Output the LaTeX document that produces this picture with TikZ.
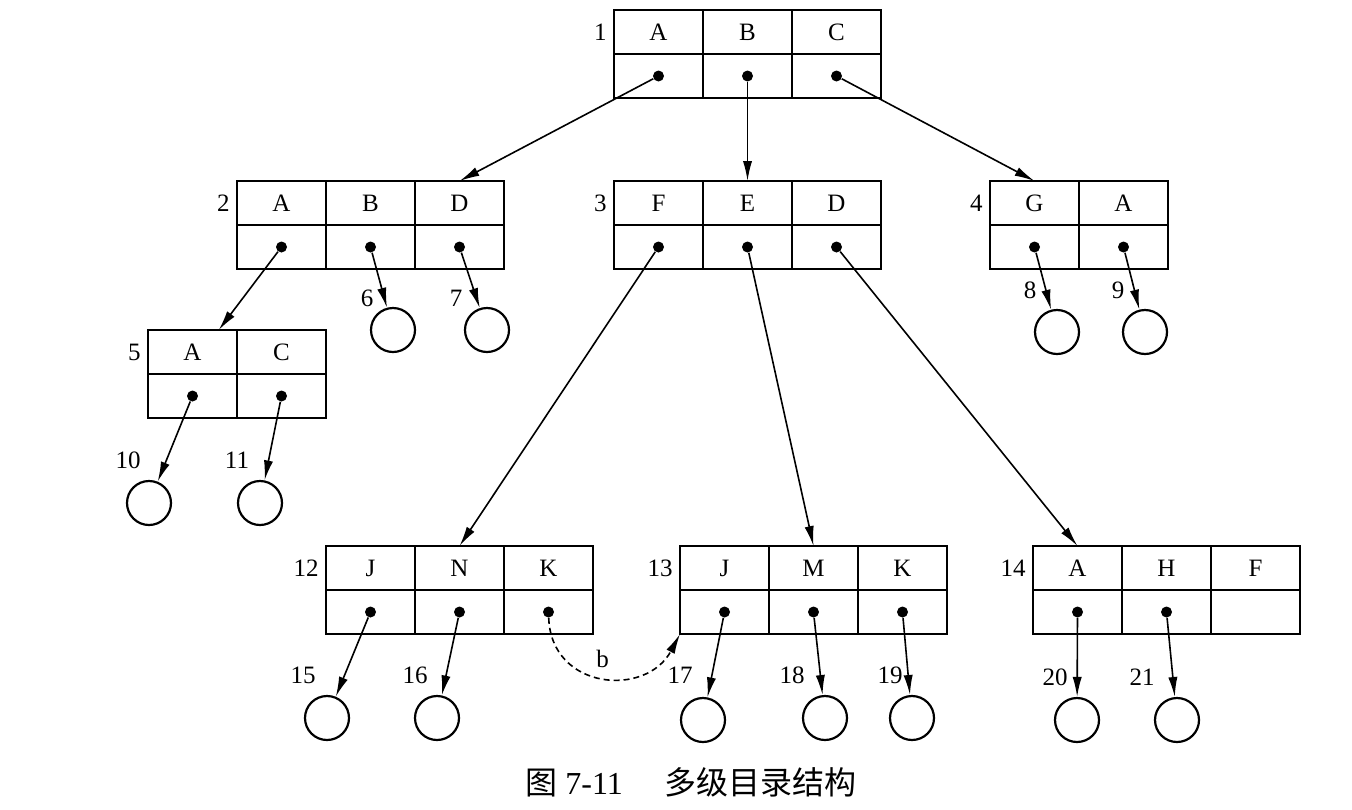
\documentclass[tikz,border=0pt]{standalone}
\usepackage{fontspec}
\setmainfont{Liberation Serif}
\newfontfamily\cjk{Noto Sans CJK SC}
\usetikzlibrary{arrows.meta,positioning}

\begin{document}
\begin{tikzpicture}[x=0.5pt, y=-0.5pt, font=\fontsize{12.5}{14}\selectfont]
            \tikzstyle{cell}=[draw, line width=1.1pt, minimum width=44.5pt, minimum height=22pt, inner sep=0pt, outer sep=0pt, anchor=north west]
            \tikzstyle{dot}=[circle, fill=black, inner sep=0pt, minimum size=5.5pt]
            \tikzstyle{leaf}=[circle, draw, line width=1.1pt, inner sep=0pt, minimum size=22pt]
            \tikzstyle{numlab}=[inner sep=1pt]
            \tikzstyle{link}=[line width=0.8pt, -{Latex[length=10pt, width=4.6pt]}]

            \useasboundingbox (0,0) rectangle (1352,809);

            % 目录块
            \foreach \id/\x/\y/\names in {1/614/10/{A,B,C}, 2/237/181/{A,B,D}, 3/614/181/{F,E,D},
                4/990/181/{G,A}, 5/148/330/{A,C}, 12/326/546/{J,N,K}, 13/680/546/{J,M,K}, 14/1033/546/{A,H,F}}{
                \foreach \t [count=\i] in \names {
                    \node[cell] (t\id-\i) at (\x+89*\i-89, \y) {\t};
                    \node[cell] (d\id-\i) at (t\id-\i.south west) {};
                }
                \node[numlab, left=2.5pt of t\id-1] (n\id) {\id};
            }

            % 指针
            \foreach \c in {1-1,1-2,1-3,2-1,2-2,2-3,3-1,3-2,3-3,4-1,4-2,5-1,5-2,
                12-1,12-2,12-3,13-1,13-2,13-3,14-1,14-2}
                \node[dot] (p\c) at (d\c) {};

            % 文件
            \foreach \n/\x/\y/\lx/\ly in {6/393/330/367/298, 7/487/330/456/298, 8/1057/332/1030/290,
                9/1145/332/1118/290, 10/149/503/128/460, 11/260/503/237/460, 15/327/718/303/675,
                16/437/718/415/675, 17/703/720/680/675, 18/825/718/792/675, 19/912/718/890/675,
                20/1077/720/1055/677, 21/1177/720/1142/677}{
                \node[leaf] (c\n) at (\x,\y) {};
                \node[numlab] (l\n) at (\lx,\ly) {\n};
            }

            % 连线
            \draw[link] (p1-1) -- (t2-3.north);
            \draw[link] (p1-2) -- (t3-2.north);
            \draw[link] (p1-3) -- (t4-1.north);
            \draw[link] (p2-1) -- (t5-1.40);
            \draw[link] (p2-2) -- (c6);
            \draw[link] (p2-3) -- (c7);
            \draw[link] (p3-1) -- (t12-2.north);
            \draw[link] (p3-2) -- (t13-2.north);
            \draw[link] (p3-3) -- (t14-1.north);
            \draw[link] (p4-1) -- (c8);
            \draw[link] (p4-2) -- (c9);
            \draw[link] (p5-1) -- (c10);
            \draw[link] (p5-2) -- (c11);
            \draw[link] (p12-1) -- (c15);
            \draw[link] (p12-2) -- (c16);
            \draw[link] (p13-1) -- (c17);
            \draw[link] (p13-2) -- (c18);
            \draw[link] (p13-3) -- (c19);
            \draw[link] (p14-1) -- (c20);
            \draw[link] (p14-2) -- (c21);

            % 链接 b
            \draw[link, dash pattern=on 3pt off 2pt] (p12-3) to[out=-88, in=-118, looseness=1.4]
                node[above=1pt] (lb) {b} (d13-1.south west);

            % 图题
            \node[font=\fontsize{16}{18}\selectfont] (cap) at (691,782)
                {{\cjk 图} 7-11\hspace{1.3em}{\cjk 多级目录结构}};
        \end{tikzpicture}
\end{document}
